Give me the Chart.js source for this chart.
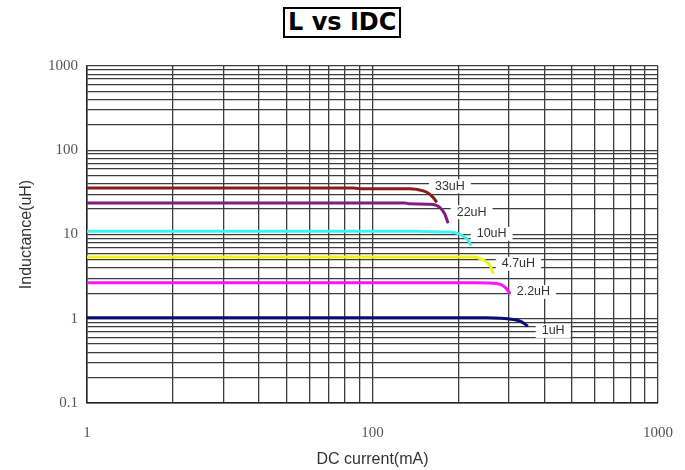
<!DOCTYPE html>
<html>
<head>
<meta charset="utf-8">
<script src="https://cdn.jsdelivr.net/npm/chart.js@4.4.1/dist/chart.umd.min.js"></script>
<style>
  html, body { margin: 0; padding: 0; background: #fff; }
  #wrap { position: relative; width: 685px; height: 470px; }
  #c { position: absolute; left: 0; top: 0; }
  #title {
    position: absolute; left: 283px; top: 7px;
    border: 2px solid #000; padding: 0 3px;
    font: bold 24px "DejaVu Sans", Verdana, sans-serif; line-height: 27px;
    color: #000; background: #fff; white-space: nowrap;
  }
</style>
</head>
<body>
<div id="wrap">
  <canvas id="c" width="685" height="470"></canvas>
  <div id="title">L vs IDC</div>
</div>
<script>
// ---- Data (DC current in mA, inductance in uH) ----
const seriesNames = ['33uH', '22uH', '10uH', '4.7uH', '2.2uH', '1uH'];
const seriesColors = ['#8B1C1C', '#7D1F7D', '#3EF2F2', '#F2F21A', '#FF14FF', '#0A0A7A'];

const current33 = [10, 85, 90, 135, 143, 155, 163, 168];
const induct33  = [35.7, 35.7, 35.0, 35.0, 34.3, 31.7, 27.6, 24.1];

const current22 = [10, 130, 135, 159, 172, 179, 184];
const induct22  = [23.7, 23.7, 23.1, 22.8, 21.0, 17.6, 13.6];

const current10 = [10, 146, 150, 187, 203, 214, 222];
const induct10  = [10.94, 10.94, 10.85, 10.7, 10.0, 8.9, 7.4];

const current4_7 = [10, 225, 244, 258, 265];
const induct4_7  = [5.39, 5.39, 5.0, 4.3, 3.43];

const current2_2 = [10, 230, 272, 291, 303];
const induct2_2  = [2.68, 2.68, 2.62, 2.38, 1.99];

const current1 = [10, 250, 311, 333, 350];
const induct1  = [1.03, 1.03, 0.98, 0.92, 0.815];

// curve label anchors (data units: mA, uH)
const labelCurrent    = [165.5, 197.2, 231.7, 283.6, 320, 391.4];
const labelInductance = [37.3, 18.4, 10.2, 4.50, 2.08, 0.717];

// axis ticks
const xMajorTicks = [10, 100, 1000];
const xTickLabels = ['1', '100', '1000'];
const yMajorTicks = [0.1, 1, 10, 100, 1000];
const yTickLabels = ['0.1', '1', '10', '100', '1000'];

// ---- build ----
const currents = [current33, current22, current10, current4_7, current2_2, current1];
const inducts  = [induct33, induct22, induct10, induct4_7, induct2_2, induct1];

function decadeTicks(majors) {
  const out = [];
  for (let i = 0; i < majors.length - 1; i++) {
    for (let k = 1; k <= 9; k++) out.push(majors[i] * k);
  }
  out.push(majors[majors.length - 1]);
  return out;
}
function labelFor(value, majors, labels) {
  const idx = majors.findIndex(m => Math.abs(m - value) / m < 1e-6);
  return idx >= 0 ? labels[idx] : '';
}

const datasets = seriesNames.map((name, i) => ({
  label: name,
  data: currents[i].map((c, j) => ({ x: c, y: inducts[i][j] })),
  borderColor: seriesColors[i],
  backgroundColor: seriesColors[i],
  borderWidth: 3,
  pointRadius: 0,
  fill: false,
  cubicInterpolationMode: 'monotone'
}));

const curveLabels = {
  id: 'curveLabels',
  beforeDatasetsDraw(chart) {
    const { ctx, scales: { x, y } } = chart;
    ctx.save();
    ctx.font = '12.5px "Liberation Sans", Arial, sans-serif';
    ctx.textBaseline = 'middle';
    ctx.textAlign = 'left';
    seriesNames.forEach((name, i) => {
      const px = x.getPixelForValue(labelCurrent[i]);
      const py = y.getPixelForValue(labelInductance[i]);
      const w = ctx.measureText(name).width;
      ctx.fillStyle = '#fff';
      ctx.fillRect(px - 6, py - 7, w + 12, 14);
      ctx.fillStyle = '#333';
      ctx.fillText(name, px, py);
    });
    ctx.restore();
  }
};

const gridStyle = { color: '#3c3c3c', lineWidth: 1.3, drawTicks: false };

new Chart(document.getElementById('c'), {
  type: 'line',
  data: { datasets },
  plugins: [curveLabels],
  options: {
    responsive: false,
    animation: false,
    layout: { padding: { left: 0, top: 66, right: 27, bottom: 0 } },
    plugins: { legend: { display: false }, tooltip: { enabled: false }, title: { display: false } },
    scales: {
      x: {
        type: 'logarithmic',
        min: 10, max: 1000,
        grid: gridStyle,
        border: { display: true, color: '#222', width: 1.5 },
        afterBuildTicks: s => { s.ticks = decadeTicks(xMajorTicks).map(v => ({ value: v })); },
        afterFit: s => { s.height = 67; s.paddingLeft = 0; s.paddingRight = 0; },
        ticks: {
          autoSkip: false, maxRotation: 0, padding: 21,
          color: '#555',
          font: { family: '"Liberation Serif", "Times New Roman", serif', size: 15 },
          callback: v => labelFor(v, xMajorTicks, xTickLabels)
        },
        title: {
          display: true, text: 'DC current(mA)', color: '#333',
          font: { family: '"Liberation Sans", Arial, sans-serif', size: 16 },
          padding: { top: 0, bottom: 1 }
        }
      },
      y: {
        type: 'logarithmic',
        min: 0.1, max: 1000,
        grid: gridStyle,
        border: { display: true, color: '#222', width: 1.5 },
        afterBuildTicks: s => { s.ticks = decadeTicks(yMajorTicks).map(v => ({ value: v })); },
        afterFit: s => { s.width = 87; s.paddingTop = 0; s.paddingBottom = 0; },
        ticks: {
          autoSkip: false, padding: 9,
          color: '#555',
          font: { family: '"Liberation Serif", "Times New Roman", serif', size: 15 },
          callback: v => labelFor(v, yMajorTicks, yTickLabels)
        },
        title: {
          display: true, text: 'Inductance(uH)', color: '#333',
          font: { family: '"Liberation Sans", Arial, sans-serif', size: 16 },
          padding: { top: 17, bottom: 0 }
        }
      }
    }
  }
});
</script>
</body>
</html>
